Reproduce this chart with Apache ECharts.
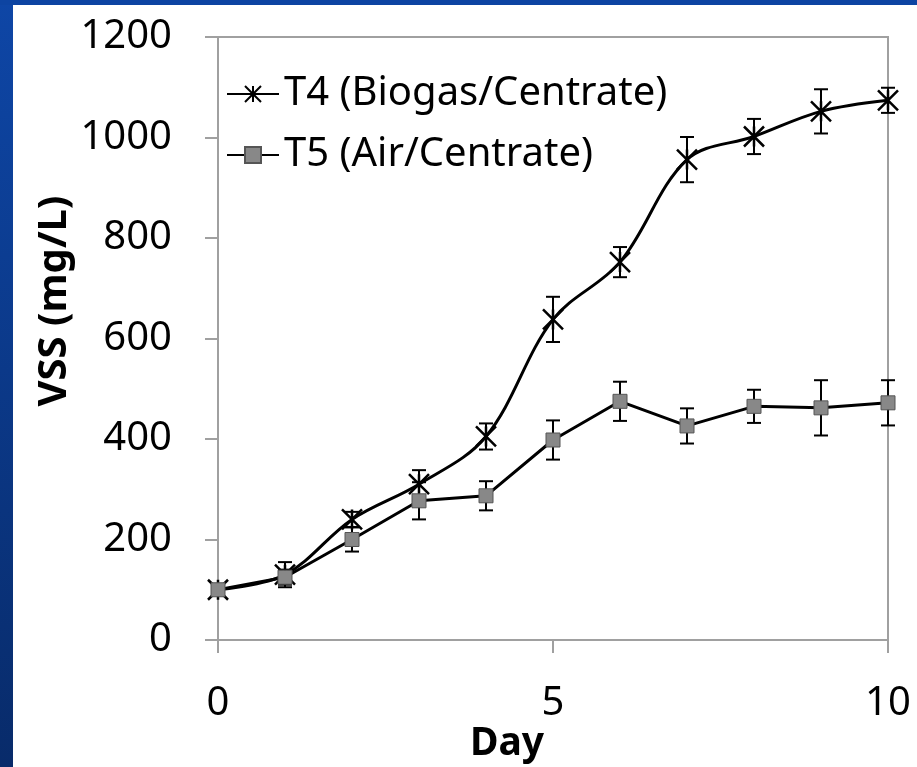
<!DOCTYPE html>
<html>
<head>
<meta charset="utf-8">
<script src="https://cdn.jsdelivr.net/npm/echarts@6/dist/echarts.min.js"></script>
<style>
  html, body { margin: 0; padding: 0; background: #fff; }
  #chart { width: 917px; height: 767px; }
</style>
</head>
<body>
<div id="chart"></div>
<script>
// days on x, VSS (mg/L) on y
var days = [0, 1, 2, 3, 4, 5, 6, 7, 8, 9, 10];
var t4 = [100, 130, 240, 310, 405, 638, 752, 956, 1002, 1052, 1074];
var t4Err = [8, 25, 15, 28, 26, 45, 30, 45, 35, 44, 25];
var t5 = [100, 125, 200, 277, 287, 398, 475, 426, 465, 462, 472];
var t5Err = [5, 15, 24, 37, 29, 39, 39, 35, 33, 55, 45];
var yTicks = [0, 200, 400, 600, 800, 1000, 1200];
var xTicks = [0, 5, 10];

var FONT = 'Noto Sans';
var chart = echarts.init(document.getElementById('chart'));

function pairs(ys) {
    var out = [];
    for (var i = 0; i < days.length; i++) out.push([days[i], ys[i]]);
    return out;
}

function errData(ys, err) {
    var out = [];
    for (var i = 0; i < days.length; i++) out.push([days[i], ys[i] - err[i], ys[i] + err[i]]);
    return out;
}

// vertical bar with caps
function errRender(params, api) {
    var lo = api.coord([api.value(0), api.value(1)]);
    var hi = api.coord([api.value(0), api.value(2)]);
    var w = 7;
    return {
        type: 'group',
        children: [
            { type: 'line', shape: { x1: lo[0], y1: lo[1], x2: hi[0], y2: hi[1] }, style: { stroke: '#000', lineWidth: 2 } },
            { type: 'line', shape: { x1: lo[0] - w, y1: lo[1], x2: lo[0] + w, y2: lo[1] }, style: { stroke: '#000', lineWidth: 2 } },
            { type: 'line', shape: { x1: hi[0] - w, y1: hi[1], x2: hi[0] + w, y2: hi[1] }, style: { stroke: '#000', lineWidth: 2 } }
        ]
    };
}

var option = {
    backgroundColor: '#fff',
    animation: false,
    graphic: [
        { type: 'rect', left: 0, top: 0, shape: { width: 13, height: 767 }, style: { fill: new echarts.graphic.LinearGradient(0, 0, 0, 1, [{ offset: 0, color: '#0e46a6' }, { offset: 1, color: '#082b6a' }]) } },
        { type: 'rect', left: 0, top: 0, shape: { width: 917, height: 5 }, style: { fill: '#0d44a2' } },
        { type: 'text', x: 55, y: 301, rotation: Math.PI / 2,
          style: { text: 'VSS (mg/L)', fontFamily: FONT, fontSize: 40, fontWeight: 'bold', fill: '#000', align: 'center', verticalAlign: 'middle' } },
        { type: 'text', x: 507, y: 744,
          style: { text: 'Day', fontFamily: FONT, fontSize: 39, fontWeight: 'bold', fill: '#000', align: 'center', verticalAlign: 'middle' } }
    ],
    grid: {
        left: 218, right: 29, top: 37, bottom: 127,
        outerBoundsMode: 'none',
        show: true, borderColor: '#a0a0a0', borderWidth: 2
    },
    legend: {
        orient: 'vertical',
        left: 221, top: 69,
        itemWidth: 52, itemHeight: 20, itemGap: 21,
        textStyle: { fontFamily: FONT, fontSize: 40, color: '#000' },
        data: ['T4 (Biogas/Centrate)', 'T5 (Air/Centrate)']
    },
    xAxis: {
        type: 'value', min: 0, max: 10, interval: 5,
        axisLine: { show: true, lineStyle: { color: '#a0a0a0', width: 2 } },
        axisTick: { show: true, length: 13, lineStyle: { color: '#a0a0a0', width: 2 } },
        axisLabel: { fontFamily: FONT, fontSize: 40, color: '#000', margin: 44,
            formatter: function (v) { return xTicks.indexOf(v) >= 0 ? String(v) : ''; } },
        splitLine: { show: false }
    },
    yAxis: {
        type: 'value', min: 0, max: 1200, interval: 200,
        axisLine: { show: true, lineStyle: { color: '#a0a0a0', width: 2 } },
        axisTick: { show: true, length: 13, lineStyle: { color: '#a0a0a0', width: 2 } },
        axisLabel: { fontFamily: FONT, fontSize: 40, color: '#000', margin: 46,
            formatter: function (v) { return yTicks.indexOf(v) >= 0 ? String(v) : ''; } },
        splitLine: { show: false }
    },
    series: [
        {
            type: 'custom', name: 'err4', renderItem: errRender,
            data: errData(t4, t4Err), encode: { x: 0, y: [1, 2] }, z: 1, silent: true
        },
        {
            type: 'custom', name: 'err5', renderItem: errRender,
            data: errData(t5, t5Err), encode: { x: 0, y: [1, 2] }, z: 1, silent: true
        },
        {
            name: 'T4 (Biogas/Centrate)', type: 'line', smooth: 0.35,
            data: pairs(t4),
            symbol: 'path://M0,0L20,20M20,0L0,20M10,0L10,20', symbolSize: 20,
            lineStyle: { color: '#000', width: 3 },
            itemStyle: { color: '#000', borderColor: '#000', borderWidth: 2.5 },
            z: 3
        },
        {
            name: 'T5 (Air/Centrate)', type: 'line',
            data: pairs(t5),
            symbol: 'rect', symbolSize: 14,
            lineStyle: { color: '#000', width: 3 },
            itemStyle: { color: '#888', borderColor: '#555', borderWidth: 1 },
            z: 4
        }
    ]
};

chart.setOption(option);
</script>
</body>
</html>
